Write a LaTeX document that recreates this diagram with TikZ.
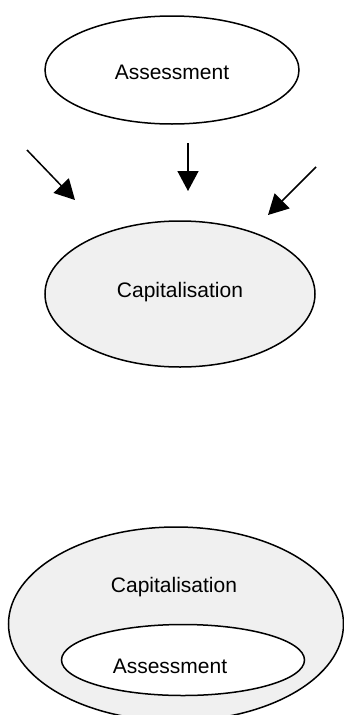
\documentclass[tikz,border=0pt]{standalone}
\usepackage{fontspec}
\setmainfont{Liberation Sans}
\usetikzlibrary{shapes.geometric,arrows.meta}
\begin{document}
\begin{tikzpicture}[x=1pt,y=-1pt,
  oval/.style={ellipse,draw=black,line width=1.5pt,inner sep=0pt},
  texturefill/.style={fill=gray!12},
  lbl/.style={font=\fontsize{21}{24}\selectfont,inner sep=0pt},
  bigarrow/.style={line width=1.5pt,-{Triangle[width=21pt,length=20pt]}}]
\useasboundingbox (0,0) rectangle (344,715);
\clip (0,0) rectangle (344,715);
% top
\node[oval,fill=white,minimum width=254pt,minimum height=108pt] (assess1) at (172,70) {};
\node[lbl] (assess1t) at (172,72) {Assessment};
\node[oval,texturefill,minimum width=270pt,minimum height=146pt] (capit1) at (180,294) {};
\node[lbl] (capit1t) at (180,292) {Capitalisation};
\coordinate (a1s) at (27,150);
\coordinate (a1e) at (75,200);
\coordinate (a2s) at (188,143);
\coordinate (a2e) at (188,191);
\coordinate (a3s) at (316,167);
\coordinate (a3e) at (268,215);
\draw[bigarrow] (a1s) -- (a1e);
\draw[bigarrow] (a2s) -- (a2e);
\draw[bigarrow] (a3s) -- (a3e);
% bottom
\node[oval,texturefill,minimum width=335pt,minimum height=194pt] (capit2) at (176,624) {};
\node[lbl] (capit2t) at (174,587) {Capitalisation};
\node[oval,fill=white,minimum width=243pt,minimum height=71pt] (assess2) at (183,660) {};
\node[lbl] (assess2t) at (170,666) {Assessment};
\end{tikzpicture}
\end{document}
